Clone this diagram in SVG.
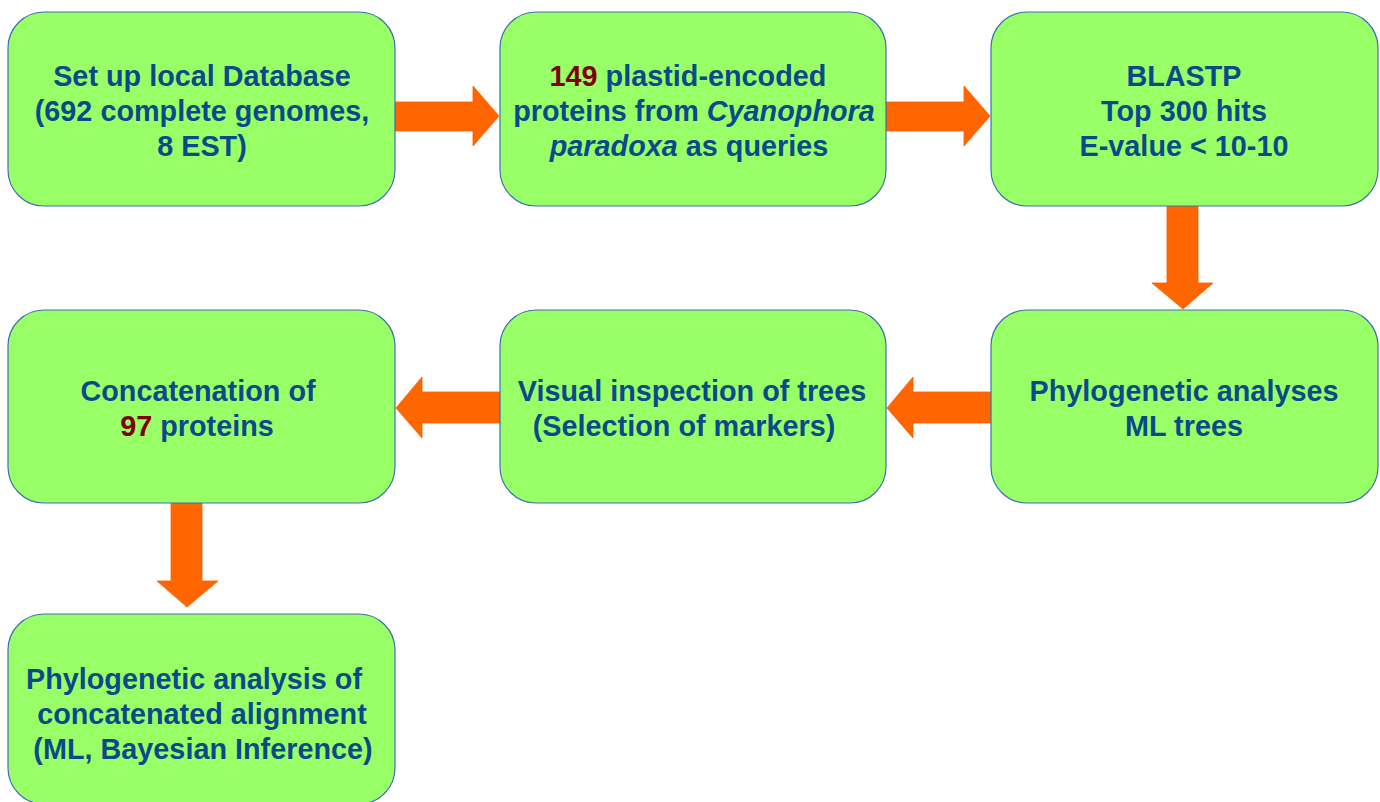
<svg xmlns="http://www.w3.org/2000/svg" width="1380" height="802" viewBox="0 0 1380 802">
<style>
.box{fill:#99ff66;stroke:#3f6fb0;stroke-width:1.2}
.arr{fill:#ff6600;stroke:#ff5a00;stroke-width:0.8}
text{font-family:"Liberation Sans",Arial,sans-serif;font-weight:bold;font-size:28.8px;fill:#0b4a8a;text-anchor:middle}
.red{fill:#800000}
.it{font-style:italic}
</style>
<rect width="1380" height="802" fill="#ffffff"/>
<g id="connectors">
<polygon class="arr" points="395,102 473,102 473,86 499,116 473,146 473,131 395,131"/>
<polygon class="arr" points="886,102 964,102 964,86 990,116 964,146 964,131 886,131"/>
<polygon class="arr" points="1167,206 1198,206 1198,283 1213,283 1183,309 1152,283 1167,283"/>
<polygon class="arr" points="991,392 913,392 913,377 887,408 913,438 913,423 991,423"/>
<polygon class="arr" points="500,392 422,392 422,377 396,408 422,438 422,423 500,423"/>
<polygon class="arr" points="171,503 202,503 202,581 218,581 187,607 157,581 171,581"/>
</g>
<g id="n1">
<rect class="box" x="8" y="12" width="387" height="194" rx="36"/>
<text x="202" y="86">Set up local Database</text>
<text x="202" y="121">(692 complete genomes,</text>
<text x="202" y="156">8 EST)</text>
</g>
<g id="n2">
<rect class="box" x="500" y="12" width="386" height="194" rx="36"/>
<text x="688" y="86"><tspan class="red">149</tspan> plastid-encoded</text>
<text x="694" y="121">proteins from <tspan class="it">Cyanophora</tspan></text>
<text x="689" y="156"><tspan class="it">paradoxa</tspan> as queries</text>
</g>
<g id="n3">
<rect class="box" x="991" y="12" width="387" height="194" rx="36"/>
<text x="1184" y="86">BLASTP</text>
<text x="1184" y="121">Top 300 hits</text>
<text x="1184" y="156">E-value &lt; 10-10</text>
</g>
<g id="n4">
<rect class="box" x="991" y="310" width="387" height="193" rx="36"/>
<text x="1184" y="401">Phylogenetic analyses</text>
<text x="1184" y="436">ML trees</text>
</g>
<g id="n5">
<rect class="box" x="500" y="310" width="386" height="193" rx="36"/>
<text x="692" y="401">Visual inspection of trees</text>
<text x="684" y="436">(Selection of markers)</text>
</g>
<g id="n6">
<rect class="box" x="8" y="310" width="387" height="193" rx="36"/>
<text x="198" y="401">Concatenation of</text>
<text x="197" y="436"><tspan class="red">97</tspan> proteins</text>
</g>
<g id="n7">
<rect class="box" x="8" y="614" width="387" height="190" rx="36"/>
<text x="194" y="689">Phylogenetic analysis of</text>
<text x="202" y="724">concatenated alignment</text>
<text x="203" y="759">(ML, Bayesian Inference)</text>
</g>
</svg>
